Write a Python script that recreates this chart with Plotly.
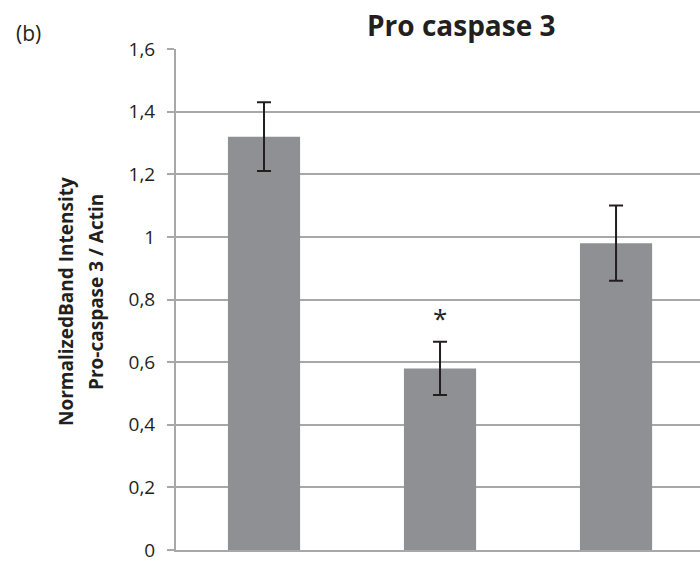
import plotly.graph_objects as go

# Normalized band intensity (Pro-caspase 3 / Actin) per group
groups = ["Group 1", "Group 2", "Group 3"]
intensity = [1.32, 0.58, 0.98]
sd = [0.11, 0.085, 0.12]
significant = [False, True, False]
y_ticks = [0, 0.2, 0.4, 0.6, 0.8, 1.0, 1.2, 1.4, 1.6]

FONT = "Open Sans"
INK = "#231f20"
GRID = "#a8a8a8"

# plot area in pixels, used to place the free-floating labels
L, R, T, B = 176, 700, 49, 550


def px_x(x):
    return (x - L) / (R - L)


def px_y(y):
    return (B - y) / (B - T)


fig = go.Figure()
fig.add_trace(go.Bar(
    x=groups,
    y=intensity,
    marker=dict(color="#8f9094", line=dict(width=0)),
    error_y=dict(type="data", array=sd, visible=True,
                 color=INK, thickness=2, width=7),
    showlegend=False,
))

# significance marks above the error bars
for g, v, e, s in zip(groups, intensity, sd, significant):
    if s:
        fig.add_annotation(x=g, y=v + e, text="*", showarrow=False,
                           yanchor="bottom", yshift=4,
                           font=dict(family=FONT, size=26, color=INK))

fig.add_annotation(xref="paper", yref="paper", x=px_x(461), y=px_y(25),
                   text="<b>Pro caspase 3</b>", showarrow=False,
                   xanchor="center", yanchor="middle",
                   font=dict(family=FONT, size=28, color=INK))
fig.add_annotation(xref="paper", yref="paper", x=px_x(28), y=px_y(33),
                   text="(b)", showarrow=False, xanchor="center", yanchor="middle",
                   font=dict(family=FONT, size=21, color=INK))

# two-line y axis title
for cx, cy, line in [(66, 302, "NormalizedBand Intensity"),
                     (96, 292, "Pro-caspase 3 / Actin")]:
    fig.add_annotation(xref="paper", yref="paper", x=px_x(cx), y=px_y(cy),
                       text=f"<b>{line}</b>", showarrow=False, textangle=-90,
                       xanchor="center", yanchor="middle",
                       font=dict(family=FONT, size=19, color=INK))

fig.update_layout(
    width=700, height=563,
    margin=dict(l=L, r=700 - R, t=T, b=563 - B),
    paper_bgcolor="white", plot_bgcolor="white",
    separators=",.",
    bargap=0.59,
    font=dict(family=FONT, color=INK),
    xaxis=dict(range=[-0.5, 2.477], showticklabels=False, ticks="",
               showline=True, linecolor=GRID, linewidth=2, showgrid=False,
               zeroline=False),
    yaxis=dict(range=[0, 1.6], tickvals=y_ticks, showgrid=True,
               gridcolor=GRID, gridwidth=2, zeroline=False,
               showline=True, linecolor=GRID, linewidth=2,
               ticks="outside", ticklen=7, tickcolor=GRID, tickwidth=2,
               ticklabelstandoff=8,
               tickfont=dict(family=FONT, size=19, color=INK)),
)

fig.write_html("out.html")
